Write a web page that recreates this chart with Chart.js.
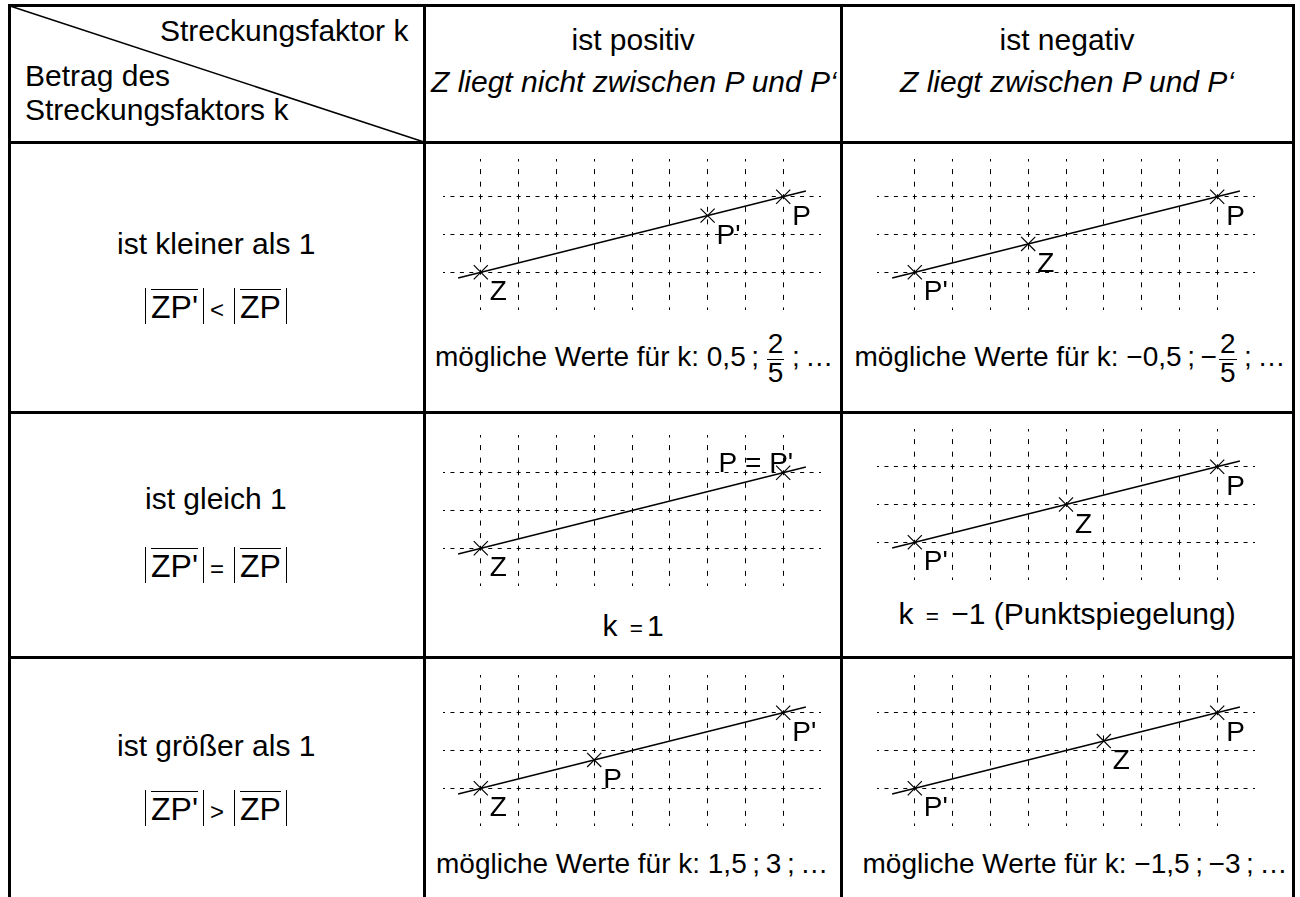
<!DOCTYPE html>
<html>
<head>
<meta charset="utf-8">
<script src="https://cdn.jsdelivr.net/npm/chart.js@4.4.0/dist/chart.umd.min.js"></script>
<style>
html, body { margin: 0; padding: 0; background: #fff; }
body { position: relative; width: 1300px; height: 897px; overflow: hidden;
       font-family: "Liberation Sans", Arial, Helvetica, sans-serif; color: #000; }
.rule { position: absolute; background: #000; }
.t { position: absolute; white-space: nowrap; line-height: 1; }
.i { font-style: italic; }
.frac { display: inline-block; vertical-align: middle; text-align: center; margin: 0 2px; }
.frac span { display: block; line-height: 0.95; }
.frac .num { border-bottom: 1.5px solid #000; padding: 0 1px 1px; }
.abs { display: inline-block; border-left: 1.5px solid #000; border-right: 1.5px solid #000;
       padding: 1px 5px 1px; line-height: 1; }
.ov { display: inline-block; border-top: 1.5px solid #000; line-height: 1; padding-top: 1px; }
.rel { font-size: 0.75em; margin: 0 4px; }
.abs + .rel, .rel + .abs { margin-left: 6px; }
canvas { position: absolute; }
</style>
</head>
<body>
<svg style="position:absolute;left:0;top:0" width="1300" height="897">
  <line x1="10" y1="6" x2="424" y2="142" stroke="#000" stroke-width="1.5"/>
</svg>
<script>
// Raster der kleinen Bilder (Einheiten)
const gridX = [0, 1, 2, 3, 4, 5, 6, 7, 8];
const gridY = [0, 1, 2];
const rangeX = [-1, 9];
const rangeY = [-1, 3];

// Gerade durch Z und P, an beiden Enden etwas verlaengert
const lineX = [-0.6, 8.6];
const lineY = [-0.15, 2.15];

// k kleiner als 1
const kleinerPosNames = ['Z', "P'", 'P'];
const kleinerPosX = [0, 6, 8];
const kleinerPosY = [0, 1.5, 2];
const kleinerNegNames = ["P'", 'Z', 'P'];
const kleinerNegX = [0, 3, 8];
const kleinerNegY = [0, 0.75, 2];

// k gleich 1
const gleichPosNames = ['Z', "P = P'"];
const gleichPosX = [0, 8];
const gleichPosY = [0, 2];
const gleichNegNames = ["P'", 'Z', 'P'];
const gleichNegX = [0, 4, 8];
const gleichNegY = [0, 1, 2];

// k groesser als 1
const groesserPosNames = ['Z', 'P', "P'"];
const groesserPosX = [0, 3, 8];
const groesserPosY = [0, 0.75, 2];
const groesserNegNames = ["P'", 'Z', 'P'];
const groesserNegX = [0, 5, 8];
const groesserNegY = [0, 1.25, 2];

// Tabellenlinien
function rule(l, t, w, h) {
    var d = document.createElement('div');
    d.className = 'rule';
    d.style.cssText = 'left:' + l + 'px;top:' + t + 'px;width:' + w + 'px;height:' + h + 'px';
    document.body.appendChild(d);
}
rule(8, 4, 1287, 3);
rule(8, 4, 3, 893);
rule(423, 4, 3, 893);
rule(840, 4, 3, 893);
rule(1292, 4, 3, 893);
rule(8, 141, 1287, 3);
rule(8, 411, 1287, 3);
rule(8, 656, 1287, 3);

// Text an Grundlinie setzen
function put(html, x, base, align, size, cls) {
    var d = document.createElement('div');
    d.className = 't ' + (cls || '');
    d.style.fontSize = size + 'px';
    d.innerHTML = html + '<span class="bm" style="display:inline-block;width:0;height:0"></span>';
    document.body.appendChild(d);
    var off = d.querySelector('.bm').offsetTop;
    var w = d.offsetWidth;
    d.style.top = (base - off) + 'px';
    var left = x;
    if (align === 'center') left = x - w / 2;
    if (align === 'right') left = x - w;
    d.style.left = left + 'px';
}
function frac(a, b) {
    return '<span class="frac"><span class="num">' + a + '</span><span>' + b + '</span></span>';
}
function betrag(s) {
    return '<span class="abs"><span class="ov">' + s + '</span></span>';
}
var TS = '\u2009';

put('Streckungsfaktor k', 408, 41, 'right', 30);
put('Betrag des', 25, 86, 'left', 30);
put('Streckungsfaktors k', 25, 120, 'left', 30);
put('ist positiv', 633, 50, 'center', 30);
put('Z liegt nicht zwischen P und P‘', 634, 92, 'center', 30, 'i');
put('ist negativ', 1067, 50, 'center', 30);
put('Z liegt zwischen P und P‘', 1067, 92, 'center', 30, 'i');

put('ist kleiner als 1', 216, 254, 'center', 30);
put(betrag("ZP'") + '<span class="rel">&lt;</span>' + betrag('ZP'), 216, 318, 'center', 32);
put('ist gleich 1', 216, 509, 'center', 30);
put(betrag("ZP'") + '<span class="rel">=</span>' + betrag('ZP'), 216, 577, 'center', 32);
put('ist größer als 1', 216, 756, 'center', 30);
put(betrag("ZP'") + '<span class="rel">&gt;</span>' + betrag('ZP'), 216, 820, 'center', 32);

put('mögliche Werte für k: 0,5' + TS + ';' + TS + frac('2', '5') + TS + ';' + TS + '…', 634, 366, 'center', 28);
put('mögliche Werte für k: −0,5' + TS + ';' + TS + '−' + frac('2', '5') + TS + ';' + TS + '…', 1070, 366, 'center', 28);
put('k <span class="rel">=</span>1', 633, 636, 'center', 30);
put('k <span class="rel">=</span> −1 (Punktspiegelung)', 1067, 624, 'center', 30);
put('mögliche Werte für k: 1,5' + TS + ';' + TS + '3' + TS + ';' + TS + '…', 632, 873, 'center', 28);
put('mögliche Werte für k: −1,5' + TS + ';' + TS + '−3' + TS + ';' + TS + '…', 1075, 873, 'center', 28);

// Beschriftung der Punkte
const pointLabels = {
    id: 'pointLabels',
    afterDatasetsDraw: function (chart, args, opts) {
        var ctx = chart.ctx;
        var meta = chart.getDatasetMeta(1);
        ctx.save();
        ctx.font = '28px "Liberation Sans", Arial, sans-serif';
        ctx.fillStyle = '#000';
        meta.data.forEach(function (pt, i) {
            if (i === opts.aboveIndex) {
                ctx.textAlign = 'right';
                ctx.fillText(opts.names[i], pt.x + 10, pt.y - 1);
            } else {
                ctx.textAlign = 'left';
                ctx.fillText(opts.names[i], pt.x + 9, pt.y + 28);
            }
        });
        ctx.restore();
    }
};

const panels = [
    { left: 443, top: 159, names: kleinerPosNames, xs: kleinerPosX, ys: kleinerPosY },
    { left: 877, top: 159, names: kleinerNegNames, xs: kleinerNegX, ys: kleinerNegY },
    { left: 443, top: 435, names: gleichPosNames, xs: gleichPosX, ys: gleichPosY, aboveIndex: 1 },
    { left: 877, top: 429, names: gleichNegNames, xs: gleichNegX, ys: gleichNegY },
    { left: 443, top: 675, names: groesserPosNames, xs: groesserPosX, ys: groesserPosY },
    { left: 877, top: 675, names: groesserNegNames, xs: groesserNegX, ys: groesserNegY }
];

panels.forEach(function (p) {
    var cv = document.createElement('canvas');
    cv.width = 378;
    cv.height = 151;
    cv.style.left = p.left + 'px';
    cv.style.top = p.top + 'px';
    document.body.appendChild(cv);

    new Chart(cv.getContext('2d'), {
        type: 'scatter',
        data: {
            datasets: [{
                data: lineX.map(function (x, i) { return { x: x, y: lineY[i] }; }),
                showLine: true,
                borderColor: '#000',
                borderWidth: 1.5,
                pointRadius: 0
            }, {
                data: p.xs.map(function (x, i) { return { x: x, y: p.ys[i] }; }),
                pointStyle: 'crossRot',
                pointRadius: 10,
                borderColor: '#000',
                backgroundColor: '#000',
                borderWidth: 1.2
            }]
        },
        options: {
            responsive: false,
            animation: false,
            events: [],
            layout: { padding: 0, autoPadding: false },
            plugins: {
                legend: { display: false },
                tooltip: { enabled: false },
                pointLabels: { names: p.names, aboveIndex: p.aboveIndex === undefined ? -1 : p.aboveIndex }
            },
            scales: {
                x: {
                    type: 'linear', min: rangeX[0], max: rangeX[1],
                    afterBuildTicks: function (s) { s.ticks = gridX.map(function (v) { return { value: v }; }); },
                    ticks: { display: false },
                    grid: { color: '#000', lineWidth: 1, drawTicks: false },
                    border: { display: false, dash: [5, 7.58], dashOffset: 2.5 }
                },
                y: {
                    type: 'linear', min: rangeY[0], max: rangeY[1],
                    afterBuildTicks: function (s) { s.ticks = gridY.map(function (v) { return { value: v }; }); },
                    ticks: { display: false },
                    grid: { color: '#000', lineWidth: 1, drawTicks: false },
                    border: { display: false, dash: [4, 5.45], dashOffset: 2 }
                }
            }
        },
        plugins: [pointLabels]
    });
});
</script>
</body>
</html>
